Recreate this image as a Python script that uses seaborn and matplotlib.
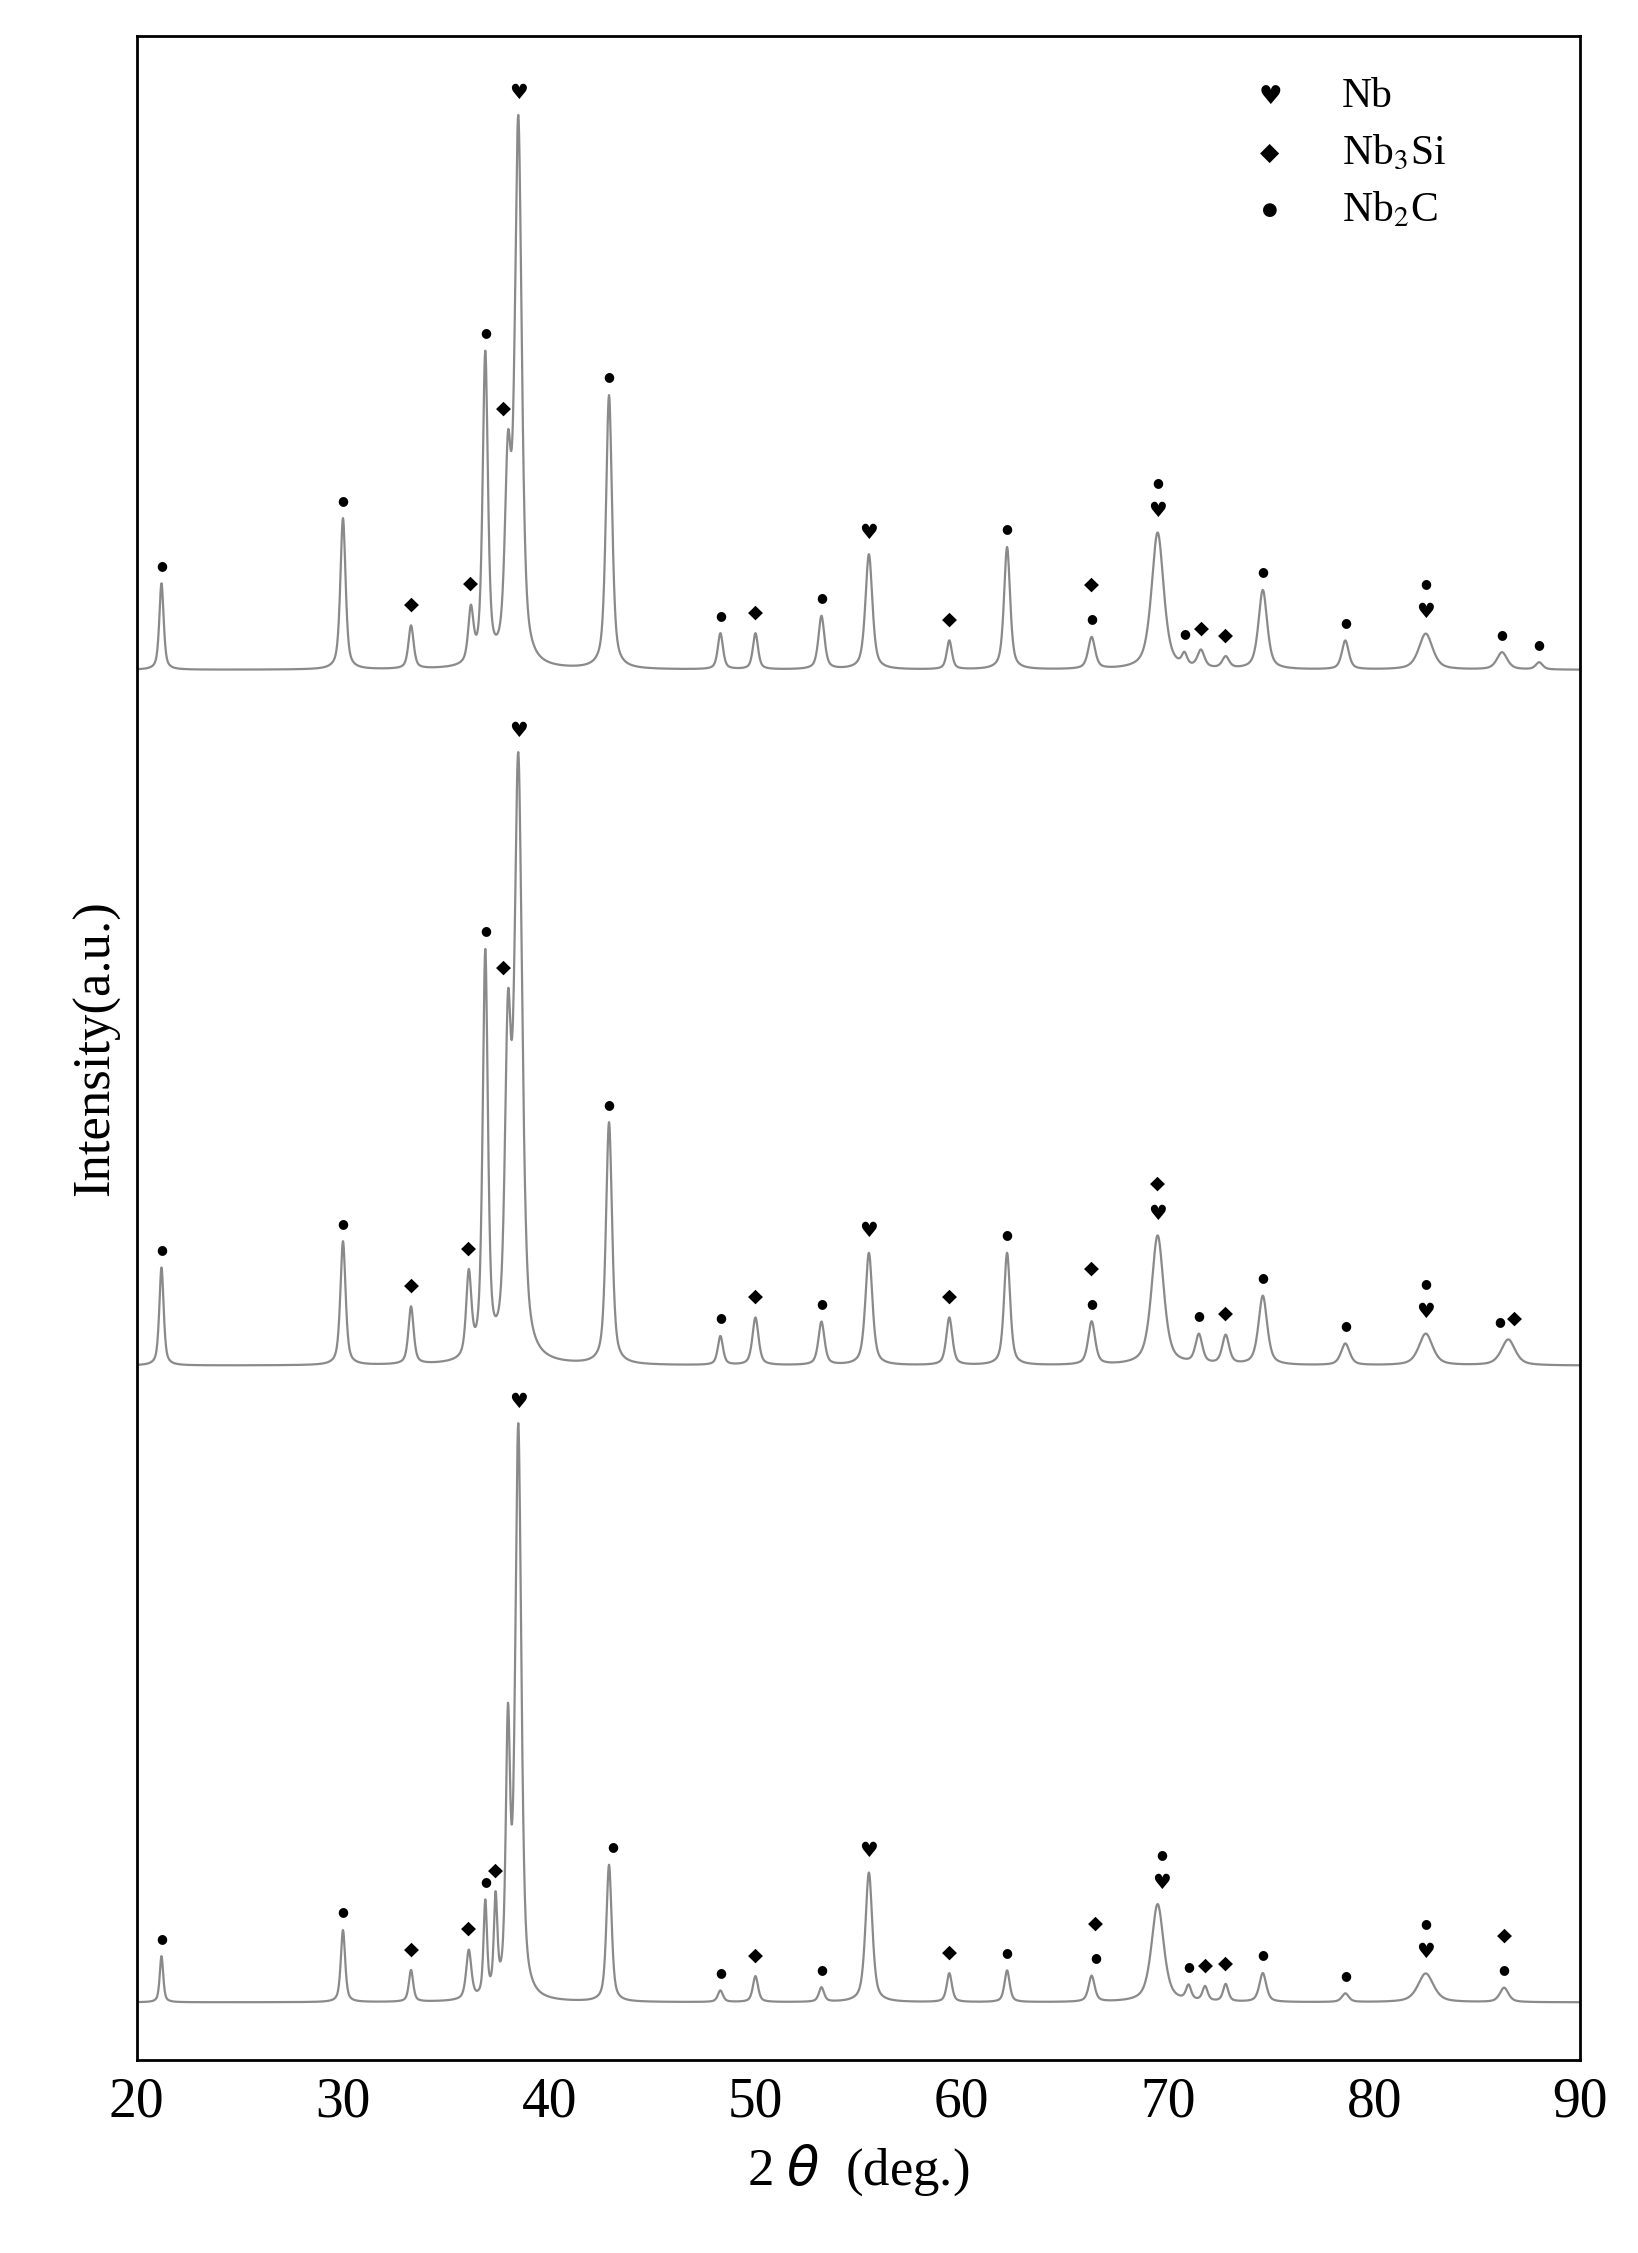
import numpy as np
import pandas as pd
import seaborn as sns
import matplotlib.pyplot as plt

# peak lists: position (deg), height (a.u., pixel-like), FWHM (deg)
top_pos = [21.2, 30.0, 33.3, 36.2, 36.9, 38.0, 38.5, 42.9, 48.3, 50.0, 53.2, 55.5, 59.4, 62.2, 66.3,
           69.5, 70.8, 71.6, 72.8, 74.6, 78.6, 82.5, 86.2, 88.0]
top_h = [60, 105, 30, 37, 215, 130, 375, 190, 25, 25, 37, 80, 20, 85, 22, 95, 8, 12, 8, 55, 20, 25, 12, 5]
top_w = [0.25, 0.3, 0.3, 0.3, 0.3, 0.35, 0.4, 0.35, 0.3, 0.3, 0.35, 0.4, 0.3, 0.35, 0.4,
         0.7, 0.3, 0.4, 0.4, 0.5, 0.4, 0.8, 0.6, 0.4]

mid_pos = [21.2, 30.0, 33.3, 36.1, 36.9, 38.0, 38.5, 42.9, 48.3, 50.0, 53.2, 55.5, 59.4, 62.2, 66.3,
           69.5, 71.5, 72.8, 74.6, 78.6, 82.5, 86.5]
mid_h = [68, 86, 40, 58, 280, 210, 410, 168, 20, 33, 30, 78, 33, 78, 30, 90, 20, 20, 48, 15, 22, 18]
mid_w = [0.25, 0.3, 0.3, 0.3, 0.3, 0.35, 0.45, 0.35, 0.3, 0.35, 0.35, 0.4, 0.35, 0.35, 0.4,
         0.7, 0.4, 0.4, 0.5, 0.5, 0.8, 0.8]

bot_pos = [21.2, 30.0, 33.3, 36.1, 36.9, 37.4, 38.0, 38.5, 42.9, 48.3, 50.0, 53.2, 55.5, 59.4, 62.2,
           66.3, 69.5, 71.0, 71.8, 72.8, 74.6, 78.6, 82.5, 86.3]
bot_h = [32, 50, 22, 34, 65, 65, 180, 395, 95, 8, 18, 10, 90, 20, 22, 18, 68, 10, 10, 12, 20, 6, 20, 10]
bot_w = [0.2, 0.25, 0.25, 0.3, 0.2, 0.2, 0.25, 0.35, 0.3, 0.3, 0.3, 0.3, 0.4, 0.3, 0.3,
         0.35, 0.7, 0.3, 0.3, 0.3, 0.4, 0.4, 0.9, 0.5]

baselines = [965, 482, 40]

# phase markers: (position, symbol stack bottom->top)
H, D, C = '\u2665', '\u25c6', '\u25cf'
top_marks = [(21.2, C), (30.0, C), (33.3, D), (36.2, D), (36.9, C), (37.8, D), (38.5, H), (42.9, C),
             (48.3, C), (50.0, D), (53.2, C), (55.5, H), (59.4, D), (62.2, C), (66.3, C + D), (69.5, H + C),
             (70.8, C), (71.6, D), (72.8, D), (74.6, C), (78.6, C), (82.5, H + C), (86.2, C), (88.0, C)]
mid_marks = [(21.2, C), (30.0, C), (33.3, D), (36.1, D), (36.9, C), (37.8, D), (38.5, H), (42.9, C),
             (48.3, C), (50.0, D), (53.2, C), (55.5, H), (59.4, D), (62.2, C), (66.3, C + D), (69.5, H + D),
             (71.5, C), (72.8, D), (74.6, C), (78.6, C), (82.5, H + C), (86.1, C), (86.8, D)]
bot_marks = [(21.2, C), (30.0, C), (33.3, D), (36.1, D), (36.9, C), (37.4, D), (38.5, H), (43.1, C),
             (48.3, C), (50.0, D), (53.2, C), (55.5, H), (59.4, D), (62.2, C), (66.5, C + D), (69.7, H + C),
             (71.0, C), (71.8, D), (72.8, D), (74.6, C), (78.6, C), (82.5, H + C), (86.3, C + D)]

sym_size = {H: 15, D: 14, C: 9}

x = np.arange(20, 90.001, 0.02)


def profile(pos, h, w, base):
    y = np.full_like(x, base, dtype=float)
    for p, a, fw in zip(pos, h, w):
        g = fw / 2
        y += a * (0.6 * g**2 / ((x - p)**2 + g**2) + 0.4 * np.exp(-np.log(2) * ((x - p) / g)**2))
    return y


sns.set_style('white')
plt.rcParams['font.family'] = ['Liberation Serif', 'DejaVu Sans']
fig = plt.figure(figsize=(16.38, 22.53), dpi=100)
ax = fig.add_axes([95 / 1138, 1 - 1430 / 1564, 1003 / 1138, 1405 / 1564])

traces = [(top_pos, top_h, top_w, top_marks), (mid_pos, mid_h, mid_w, mid_marks), (bot_pos, bot_h, bot_w, bot_marks)]
for (pos, h, w, marks), base in zip(traces, baselines):
    y = profile(pos, h, w, base)
    df = pd.DataFrame({'x': x, 'y': y})
    sns.lineplot(data=df, x='x', y='y', ax=ax, color='#8a8a8a', lw=1.6)
    for mx, syms in marks:
        ytop = y[np.abs(x - mx) < 0.4].max()
        for k, s in enumerate(syms):
            ax.text(mx, ytop + 8 + k * 22, s, ha='center', va='bottom', fontsize=sym_size[s],
                    family='DejaVu Sans', color='black')

ax.set_xlim(20, 90)
ax.set_ylim(0, 1405)
ax.set_yticks([])
ax.set_xticks(range(20, 91, 10))
ax.tick_params(axis='x', labelsize=40, labelcolor='black', direction='in', length=0, pad=12)
for s in ax.spines.values():
    s.set_linewidth(2)
    s.set_color('black')
ax.set_xlabel('2 $\\theta$  (deg.)', fontsize=38, labelpad=10, color='black')
ax.set_ylabel('Intensity(a.u.)', fontsize=38, labelpad=12, color='black')

leg = [(H, 'Nb'), (D, 'Nb$_3$Si'), (C, 'Nb$_2$C')]
for i, (s, t) in enumerate(leg):
    yy = 0.97 - i * 0.028
    ax.text(0.785, yy, s, transform=ax.transAxes, fontsize=sym_size[s] + 4, family='DejaVu Sans',
            ha='center', va='center', color='black')
    ax.text(0.835, yy, t, transform=ax.transAxes, fontsize=30, ha='left', va='center',
            math_fontfamily='stix', color='black')

fig.savefig('out.png', dpi=100)
